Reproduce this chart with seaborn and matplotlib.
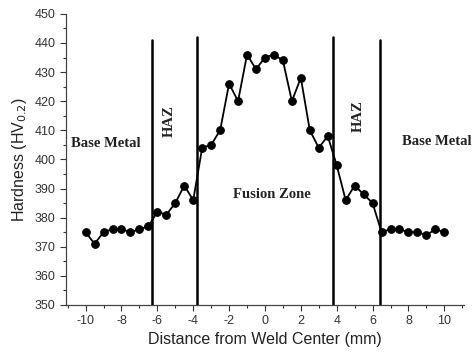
import numpy as np
import pandas as pd
import matplotlib.pyplot as plt
import seaborn as sns
from matplotlib.ticker import MultipleLocator

# Hardness profile across the weld
distance = np.arange(-10, 10.5, 0.5)
hardness = [375, 371, 375, 376, 376, 375, 376, 377, 382, 381, 385, 391, 386,
            404, 405, 410, 426, 420, 436, 431, 435, 436, 434, 420, 428, 410,
            404, 408, 398, 386, 391, 388, 385, 375, 376, 376, 375, 375, 374,
            376, 375]

# zone boundaries (mm) and top of each boundary line
boundaries = [-6.3, -3.8, 3.8, 6.4]
boundary_tops = [441, 442, 442, 441]

df = pd.DataFrame({'distance': distance, 'hardness': hardness})

sns.set_style('ticks')
plt.rcParams['font.family'] = ['Liberation Sans', 'DejaVu Sans']

fig = plt.figure(figsize=(4.74, 3.55), dpi=100)
ax = fig.add_axes([0.139, 0.141, 0.840, 0.820])

sns.lineplot(data=df, x='distance', y='hardness', ax=ax, color='black',
             marker='o', markersize=5.5, linewidth=1.3, markeredgecolor='black')

for b, top in zip(boundaries, boundary_tops):
    ax.plot([b, b], [350, top], color='black', linewidth=1.8)

serif = dict(family='Liberation Serif', fontweight='bold', fontsize=10.5, color='#222222')
ax.text(-10.8, 405.5, 'Base Metal', ha='left', va='center', **serif)
ax.text(-5.35, 413, 'HAZ', ha='center', va='center', rotation=90, **serif)
ax.text(0.4, 388, 'Fusion Zone', ha='center', va='center', **serif)
ax.text(5.2, 415, 'HAZ', ha='center', va='center', rotation=90, **serif)
ax.text(7.65, 406, 'Base Metal', ha='left', va='center', clip_on=False, **serif)

ax.set_xlim(-11.1, 11.1)
ax.set_ylim(350, 450)
ax.xaxis.set_major_locator(MultipleLocator(2))
ax.xaxis.set_minor_locator(MultipleLocator(1))
ax.yaxis.set_major_locator(MultipleLocator(10))
ax.yaxis.set_minor_locator(MultipleLocator(5))
ax.tick_params(which='major', length=4, width=0.8, labelsize=9, colors='#333333')
ax.tick_params(which='minor', length=2.5, width=0.8, colors='#333333')
ax.set_xticks(np.arange(-10, 11, 2))
ax.set_xticklabels([str(v) for v in range(-10, 11, 2)])

ax.set_xlabel('Distance from Weld Center (mm)', fontsize=11.5, color='#222222', labelpad=3)
ax.set_ylabel('Hardness (HV$_{0.2}$)', fontsize=11.5, color='#222222', labelpad=4)

sns.despine(ax=ax)
for s in ['left', 'bottom']:
    ax.spines[s].set_color('#444444')
    ax.spines[s].set_linewidth(0.9)

fig.savefig('out.png', dpi=100)
plt.close(fig)
